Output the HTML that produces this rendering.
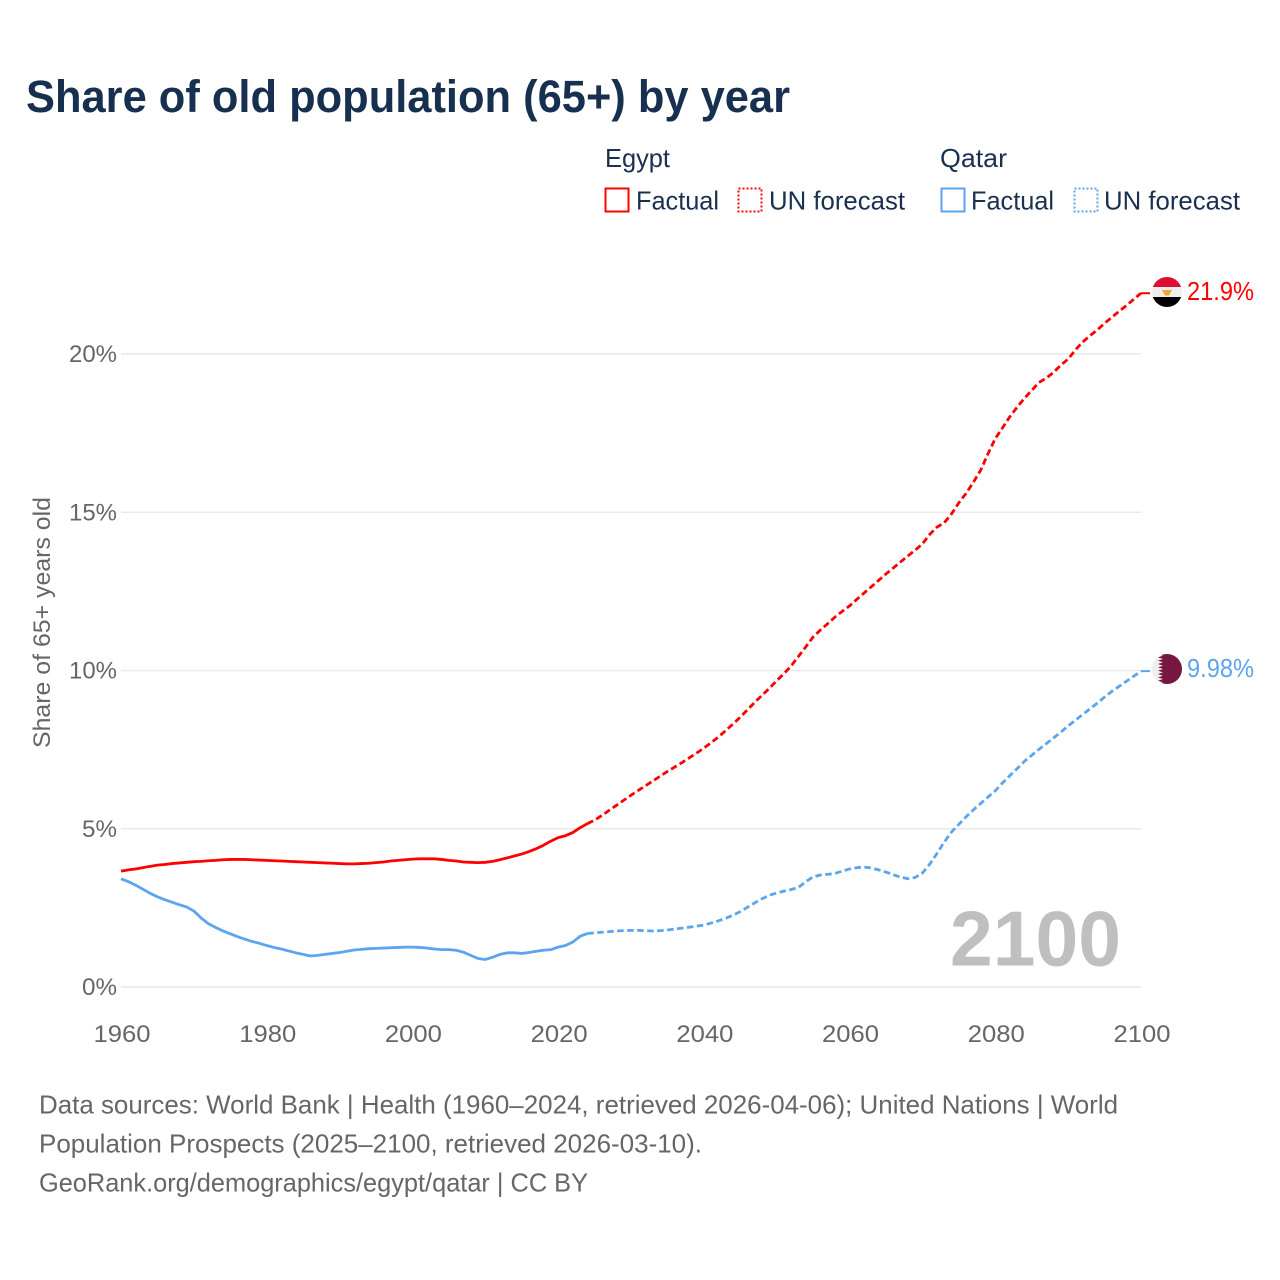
<!DOCTYPE html>
<html lang="en">
<head>
<meta charset="utf-8">
<title>Share of old population (65+) by year</title>
<style>
html,body{margin:0;padding:0;background:#fff;}
svg{display:block;font-family:"Liberation Sans",sans-serif;}
</style>
</head>
<body>
<svg id="chart" xmlns="http://www.w3.org/2000/svg" width="1280" height="1280" viewBox="0 0 1280 1280">
  <rect x="0" y="0" width="1280" height="1280" fill="#ffffff"/>
  <text x="26" y="112" font-size="45" font-weight="700" fill="#17304f" textLength="764" lengthAdjust="spacingAndGlyphs">Share of old population (65+) by year</text>

  <g font-size="26" fill="#1a3050">
    <text x="605" y="167" textLength="65" lengthAdjust="spacingAndGlyphs">Egypt</text>
    <text x="940" y="167" textLength="67" lengthAdjust="spacingAndGlyphs">Qatar</text>
    <rect x="605.500" y="188.500" width="23" height="23" fill="none" stroke="#ff0000" stroke-width="2"/>
    <text x="636" y="209.500" textLength="83" lengthAdjust="spacingAndGlyphs">Factual</text>
    <rect x="738.500" y="188.500" width="23" height="23" fill="none" stroke="#ff0000" stroke-width="2" stroke-dasharray="2 2"/>
    <text x="769" y="209.500" textLength="136" lengthAdjust="spacingAndGlyphs">UN forecast</text>
    <rect x="941.500" y="188.500" width="23" height="23" fill="none" stroke="#5ba4ee" stroke-width="2"/>
    <text x="971" y="209.500" textLength="83" lengthAdjust="spacingAndGlyphs">Factual</text>
    <rect x="1074.500" y="188.500" width="23" height="23" fill="none" stroke="#5ba4ee" stroke-width="2" stroke-dasharray="2 2"/>
    <text x="1104" y="209.500" textLength="136" lengthAdjust="spacingAndGlyphs">UN forecast</text>
  </g>

  <g id="grid"></g>
  <g id="yticks"></g>
  <g id="xticks"></g>
  <text transform="translate(50,748) rotate(-90)" font-size="24" fill="#666666" textLength="251" lengthAdjust="spacingAndGlyphs">Share of 65+ years old</text>
  <text x="950" y="965.500" font-size="78" font-weight="700" fill="#bfbfbf" textLength="171" lengthAdjust="spacingAndGlyphs">2100</text>
  <g id="series"></g>

  <defs>
    <clipPath id="clip-egypt"><circle cx="1167" cy="292" r="15"/></clipPath>
    <clipPath id="clip-qatar"><circle cx="1167" cy="669" r="15"/></clipPath>
  </defs>
  <g clip-path="url(#clip-egypt)">
    <rect x="1152" y="277" width="30" height="10" fill="#dc0f32"/>
    <rect x="1152" y="287" width="30" height="10" fill="#eeeeee"/>
    <rect x="1152" y="297" width="30" height="10" fill="#000000"/>
    <path d="M1162 290h10l-3 5.500h-4z" fill="#f6a531"/>
  </g>
  <g clip-path="url(#clip-qatar)">
    <rect x="1152" y="654" width="30" height="30" fill="#eeeeee"/>
    <path d="M1182 654H1158l5 1.670-5 1.670 5 1.670-5 1.670 5 1.670-5 1.670 5 1.670-5 1.670 5 1.670-5 1.670 5 1.670-5 1.670 5 1.670-5 1.670 5 1.670-5 1.670 5 1.670-5 1.670H1182z" fill="#761741"/>
  </g>
  <text x="1187" y="300" font-size="26" fill="#ff0000" textLength="67" lengthAdjust="spacingAndGlyphs">21.9%</text>
  <text x="1187" y="677" font-size="26" fill="#5ba4ee" textLength="67" lengthAdjust="spacingAndGlyphs">9.98%</text>

  <g font-size="26" fill="#666666">
    <text x="39" y="1113.500" textLength="1079" lengthAdjust="spacingAndGlyphs">Data sources: World Bank | Health (1960–2024, retrieved 2026-04-06); United Nations | World</text>
    <text x="39" y="1152.500" textLength="663" lengthAdjust="spacingAndGlyphs">Population Prospects (2025–2100, retrieved 2026-03-10).</text>
    <text x="39" y="1191.500" textLength="549" lengthAdjust="spacingAndGlyphs">GeoRank.org/demographics/egypt/qatar | CC BY</text>
  </g>
</svg>
<script>
const firstYear = 1960;
const lastFactualYear = 2024;
const xTickYears = [1960, 1980, 2000, 2020, 2040, 2060, 2080, 2100];
const yTickValues = [0, 5, 10, 15, 20];
const egyptValues = [
  3.66,3.70,3.73,3.77,3.81, 3.85,3.87,3.90,3.92,3.94,
  3.96,3.97,3.99,4.00,4.02, 4.03,4.03,4.03,4.02,4.01,
  4.00,3.99,3.98,3.97,3.96, 3.95,3.94,3.93,3.92,3.91,
  3.90,3.89,3.89,3.90,3.91, 3.93,3.95,3.98,4.00,4.02,
  4.04,4.05,4.05,4.05,4.03, 4.00,3.98,3.95,3.94,3.93,
  3.94,3.97,4.02,4.08,4.14, 4.20,4.28,4.37,4.48,4.61,
  4.72,4.78,4.88,5.03,5.16, 5.27,5.42,5.58,5.74,5.90,
  6.06,6.21,6.36,6.51,6.66, 6.81,6.95,7.09,7.24,7.39,
  7.55,7.72,7.90,8.10,8.31, 8.53,8.76,9.00,9.22,9.44,
  9.68,9.90,10.15,10.45,10.75, 11.06,11.28,11.48,11.69,11.87,
  12.04,12.25,12.45,12.65,12.85, 13.05,13.24,13.43,13.62,13.80,
  14.00,14.30,14.53,14.67,14.95, 15.30,15.60,15.95,16.33,16.85,
  17.33,17.67,18.02,18.32,18.60, 18.85,19.10,19.24,19.42,19.65,
  19.84,20.13,20.38,20.58,20.76, 20.97,21.16,21.35,21.53,21.73,
  21.92
];
const qatarValues = [
  3.42,3.33,3.22,3.09,2.96, 2.85,2.76,2.68,2.60,2.53,
  2.40,2.18,2.00,1.88,1.77, 1.68,1.59,1.51,1.44,1.38,
  1.31,1.25,1.20,1.14,1.08, 1.03,0.98,1.00,1.03,1.06,
  1.09,1.13,1.17,1.19,1.21, 1.22,1.23,1.24,1.25,1.26,
  1.26,1.25,1.23,1.20,1.18, 1.18,1.16,1.10,1.00,0.90,
  0.87,0.94,1.03,1.08,1.08, 1.06,1.09,1.13,1.16,1.18,
  1.26,1.31,1.42,1.60,1.69, 1.71,1.73,1.75,1.77,1.78,
  1.79,1.79,1.78,1.77,1.78, 1.80,1.83,1.86,1.89,1.92,
  1.96,2.02,2.09,2.17,2.27, 2.38,2.52,2.66,2.79,2.90,
  2.97,3.03,3.08,3.15,3.33, 3.48,3.54,3.56,3.59,3.66,
  3.73,3.77,3.79,3.76,3.70, 3.63,3.55,3.47,3.42,3.46,
  3.60,3.88,4.22,4.58,4.90, 5.14,5.38,5.60,5.80,6.00,
  6.20,6.45,6.68,6.90,7.13, 7.32,7.51,7.69,7.87,8.05,
  8.25,8.43,8.61,8.79,8.97, 9.16,9.34,9.50,9.66,9.82,
  9.98
];

const NS = 'http://www.w3.org/2000/svg';
function xScale(year) { return 121 + (year - 1960) * (1141 - 121) / 140; }
function yScale(value) { return 987 - value * (987 - 354) / 20; }
function linePath(values, fromYear, toYear) {
  const parts = [];
  for (let yr = fromYear; yr <= toYear; yr++) {
    const v = values[yr - firstYear];
    parts.push((parts.length ? 'L' : 'M') + xScale(yr).toFixed(2) + ' ' + yScale(v).toFixed(2));
  }
  return parts.join('');
}
const gridLayer = document.getElementById('grid');
const yLayer = document.getElementById('yticks');
const xLayer = document.getElementById('xticks');
const seriesLayer = document.getElementById('series');

yTickValues.forEach(function (v) {
  const line = document.createElementNS(NS, 'line');
  
  
  line.setAttribute('x1', 121);
  line.setAttribute('x2', 1141);
  line.setAttribute('y1', yScale(v));
  line.setAttribute('y2', yScale(v));
  line.setAttribute('stroke', '#e9e9e9');
  line.setAttribute('stroke-width', '1.500');
  gridLayer.appendChild(line);

  const label = document.createElementNS(NS, 'text');
  
  
  label.setAttribute('x', 117);
  label.setAttribute('y', yScale(v) + 8);
  label.setAttribute('text-anchor', 'end');
  label.setAttribute('font-size', '24');
  label.setAttribute('fill', '#666666');
  label.setAttribute('textLength', v >= 10 ? 48 : 35);
  label.setAttribute('lengthAdjust', 'spacingAndGlyphs');
  label.textContent = v + '%';
  yLayer.appendChild(label);
});

xTickYears.forEach(function (yr) {
  const label = document.createElementNS(NS, 'text');
  
  
  label.setAttribute('x', xScale(yr) + 1);
  label.setAttribute('y', 1042);
  label.setAttribute('text-anchor', 'middle');
  label.setAttribute('font-size', '24');
  label.setAttribute('fill', '#666666');
  label.setAttribute('textLength', 57);
  label.setAttribute('lengthAdjust', 'spacingAndGlyphs');
  label.textContent = yr;
  xLayer.appendChild(label);
});

function addLine(values, color, fromYear, toYear, dashed, name) {
  const p = document.createElementNS(NS, 'path');
  
  
  p.setAttribute('d', linePath(values, fromYear, toYear));
  p.setAttribute('fill', 'none');
  p.setAttribute('stroke', color);
  p.setAttribute('stroke-width', '2.800');
  p.setAttribute('stroke-linejoin', 'round');
  if (dashed) p.setAttribute('stroke-dasharray', '6.500 3.500');
  seriesLayer.appendChild(p);
}
function addConnector(values, color, name) {
  const end = values[values.length - 1];
  const c = document.createElementNS(NS, 'line');
  
  
  c.setAttribute('x1', xScale(firstYear + values.length - 1));
  c.setAttribute('x2', xScale(firstYear + values.length - 1) + 9);
  c.setAttribute('y1', yScale(end));
  c.setAttribute('y2', yScale(end));
  c.setAttribute('stroke', color);
  c.setAttribute('stroke-width', '2');
  seriesLayer.appendChild(c);
}
const finalYear = firstYear + egyptValues.length - 1;
addLine(qatarValues, '#5ba4ee', firstYear, lastFactualYear, false, 'qatar-factual-line');
addLine(qatarValues, '#5ba4ee', lastFactualYear, finalYear, true, 'qatar-forecast-line');
addConnector(qatarValues, '#5ba4ee', 'qatar-flag-connector');
addLine(egyptValues, '#ff0000', firstYear, lastFactualYear, false, 'egypt-factual-line');
addLine(egyptValues, '#ff0000', lastFactualYear, finalYear, true, 'egypt-forecast-line');
addConnector(egyptValues, '#ff0000', 'egypt-flag-connector');
</script>
</body>
</html>
